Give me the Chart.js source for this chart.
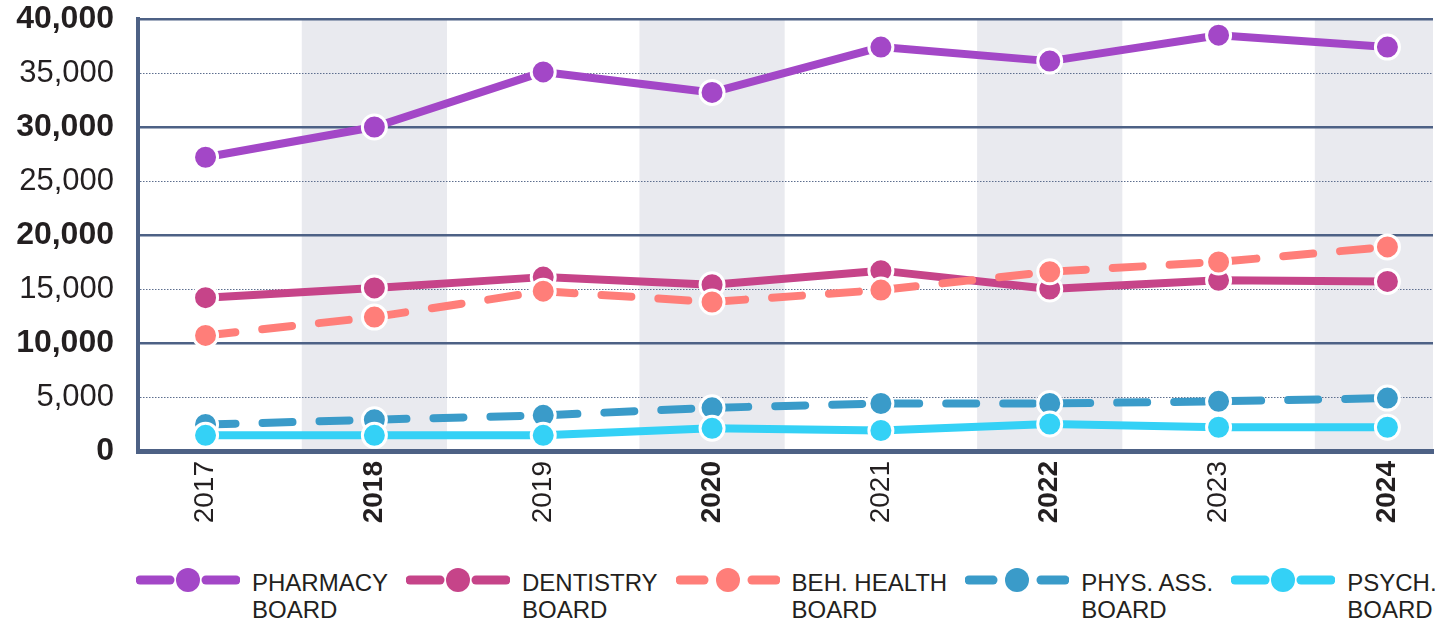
<!DOCTYPE html>
<html>
<head>
<meta charset="utf-8">
<script src="https://cdn.jsdelivr.net/npm/chart.js@4.4.1/dist/chart.umd.min.js"></script>
<style>
  html, body { margin: 0; padding: 0; background: #fff; }
  #wrap { position: relative; width: 1452px; height: 624px; overflow: hidden; font-family: 'Liberation Sans', Arial, sans-serif; }
  #box { position: absolute; left: 0; top: 0; width: 1452px; height: 550px; }
  #legend { position: absolute; left: 136px; top: 569px; display: flex; gap: 18px; }
  .item { display: flex; align-items: flex-start; }
  .item svg { margin-top: -2px; margin-right: 12px; flex: none; }
  .item span { font-size: 24px; line-height: 27px; color: #231f20; white-space: pre-line; }
</style>
</head>
<body>
<div id="wrap">
  <div id="box"><canvas id="boardsChart"></canvas></div>
  <div id="legend"></div>
</div>
<script>
// Values
const years = [2017, 2018, 2019, 2020, 2021, 2022, 2023, 2024];
const pharmacy  = [27200, 30000, 35100, 33200, 37400, 36100, 38500, 37400];
const dentistry = [14200, 15100, 16100, 15400, 16700, 15000, 15800, 15700];
const behHealth = [10700, 12400, 14800, 13800, 14900, 16600, 17500, 18900];
const physAss   = [2450, 2900, 3300, 4000, 4400, 4400, 4600, 4900];
const psych     = [1450, 1450, 1450, 2100, 1900, 2500, 2200, 2200];
const yTicks = [0, 5000, 10000, 15000, 20000, 25000, 30000, 35000, 40000];
const seriesNames = ['PHARMACY\nBOARD', 'DENTISTRY\nBOARD', 'BEH. HEALTH\nBOARD', 'PHYS. ASS.\nBOARD', 'PSYCH.\nBOARD'];

const FONT = "'Liberation Sans', Arial, sans-serif";
const NAVY = '#4d6185';
const INK = '#231f20';

const series = [
    { name: seriesNames[0], data: pharmacy,  color: '#a347c7', dashed: false, order: 4 },
    { name: seriesNames[1], data: dentistry, color: '#c64489', dashed: false, order: 3 },
    { name: seriesNames[2], data: behHealth, color: '#ff7e79', dashed: true,  order: 2 },
    { name: seriesNames[3], data: physAss,   color: '#3a9bc9', dashed: true,  order: 1 },
    { name: seriesNames[4], data: psych,     color: '#34d1f6', dashed: false, order: 0 }
];

// grey bands behind the even years
const shadeBands = {
    id: 'shadeBands',
    beforeDraw(chart) {
        const { ctx, chartArea: a, scales: { x } } = chart;
        ctx.save();
        ctx.fillStyle = '#e9eaef';
        years.filter(y => y % 2 === 0).forEach(y => {
            const l = Math.max(a.left, x.getPixelForValue(y - 0.43));
            const r = Math.min(a.right, x.getPixelForValue(y + 0.43));
            ctx.fillRect(l, a.top, r - l, a.bottom - a.top);
        });
        ctx.restore();
    }
};

const isMajor = c => c.tick && c.tick.value % 10000 === 0;

new Chart(document.getElementById('boardsChart'), {
    type: 'line',
    data: {
        datasets: series.map(s => ({
            label: s.name,
            data: s.data.map((v, i) => ({ x: years[i], y: v })),
            borderColor: s.color,
            backgroundColor: s.color,
            borderWidth: 8,
            borderCapStyle: 'round',
            borderJoinStyle: 'round',
            borderDash: s.dashed ? [30, 27] : [],
            pointRadius: 12,
            pointBorderWidth: 3,
            pointBorderColor: '#fff',
            pointBackgroundColor: s.color,
            tension: 0,
            clip: false,
            order: s.order
        }))
    },
    options: {
        responsive: true,
        maintainAspectRatio: false,
        animation: false,
        layout: { padding: { top: 19, right: 19, left: 0, bottom: 0 } },
        plugins: {
            legend: { display: false },
            tooltip: { enabled: false },
            title: { display: false }
        },
        scales: {
            x: {
                type: 'linear',
                min: 2016.6,
                max: 2024.27,
                afterBuildTicks: s => { s.ticks = years.map(v => ({ value: v })); },
                afterFit: s => { s.height = 99; s.paddingLeft = 0; s.paddingRight = 0; },
                grid: { display: false, drawTicks: false },
                border: { display: true, color: NAVY, width: 5 },
                ticks: {
                    autoSkip: false,
                    minRotation: 90,
                    maxRotation: 90,
                    padding: 10,
                    color: INK,
                    callback: v => String(v),
                    font: c => ({
                        family: FONT,
                        size: 28,
                        weight: c.tick && c.tick.value % 2 === 0 ? 'bold' : 'normal'
                    })
                }
            },
            y: {
                min: 0,
                max: 40000,
                afterBuildTicks: s => { s.ticks = yTicks.map(v => ({ value: v })); },
                afterFit: s => { s.width = 138; s.paddingTop = 0; s.paddingBottom = 0; },
                grid: {
                    drawTicks: false,
                    color: c => isMajor(c) ? NAVY : '#5d6e8e',
                    lineWidth: c => isMajor(c) ? 2.5 : 1
                },
                border: {
                    display: true,
                    color: NAVY,
                    width: 4,
                    dash: c => (c.tick && !isMajor(c)) ? [1.5, 1.5] : []
                },
                ticks: {
                    padding: 24,
                    color: INK,
                    callback: v => v.toLocaleString('en-US'),
                    font: c => ({
                        family: FONT,
                        size: isMajor(c) ? 32 : 31,
                        weight: isMajor(c) ? 'bold' : 'normal'
                    })
                }
            }
        }
    },
    plugins: [shadeBands]
});

// HTML legend: line + dot symbol and two-line label
const legend = document.getElementById('legend');
series.forEach(s => {
    const item = document.createElement('div');
    item.className = 'item';
    const segs = s.dashed
        ? '<line x1="4" y1="13" x2="28" y2="13"/><line x1="76" y1="13" x2="100" y2="13"/>'
        : '<line x1="4" y1="13" x2="34" y2="13"/><line x1="70" y1="13" x2="100" y2="13"/>';
    item.innerHTML =
        '<svg width="104" height="26" viewBox="0 0 104 26">' +
        '<g stroke="' + s.color + '" stroke-width="9" stroke-linecap="round">' + segs + '</g>' +
        '<circle cx="52" cy="13" r="12" fill="' + s.color + '"/>' +
        '</svg><span></span>';
    item.querySelector('span').textContent = s.name;
    legend.appendChild(item);
});
</script>
</body>
</html>
